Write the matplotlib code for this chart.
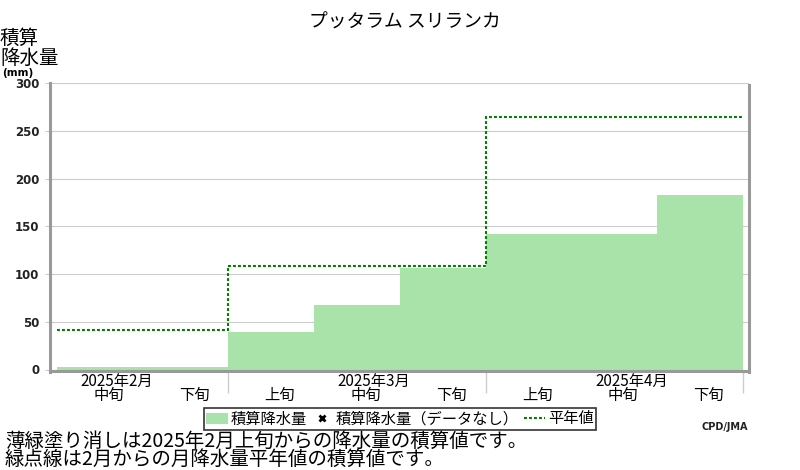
import matplotlib
matplotlib.use("Agg")
import matplotlib.pyplot as plt
import numpy as np
from matplotlib.patches import Patch
from matplotlib.lines import Line2D

plt.rcParams['font.family'] = ['Noto Sans CJK JP', 'DejaVu Sans']

# 旬ごとの積算降水量 (2025年2月中旬 ～ 4月下旬)
dekads = ['中旬', '下旬', '上旬', '中旬', '下旬', '上旬', '中旬', '下旬']
months = ['2025年2月', '2025年3月', '2025年4月']
month_mid_index = [0, 3, 6]          # 各月の「中旬」の位置
month_edges = [2, 5, 8]              # 月の区切り
precip = [2.4, 2.4, 39.7, 68.0, 106.6, 142.0, 142.0, 183.0]
normal = [41.8, 41.8, 108.0, 108.0, 108.0, 264.7, 264.7, 264.7]
nodata_x = []
nodata_y = []

title = 'プッタラム スリランカ'
note1 = '薄緑塗り消しは2025年2月上旬からの降水量の積算値です。'
note2 = '緑点線は2月からの月降水量平年値の積算値です。'

fill_color = '#aae3aa'
line_color = '#008000'
frame_color = '#999999'
grid_color = '#cccccc'

fig = plt.figure(figsize=(8, 4.7), dpi=100)
ax = fig.add_axes([50 / 800, 1 - 369.5 / 470, 699 / 800, 286.5 / 470])

x = np.arange(len(precip))
edges = np.arange(len(precip) + 1)

ax.bar(x, precip, width=1.0, align='edge', color=fill_color, linewidth=0,
       zorder=2, label='積算降水量')
ax.plot(nodata_x, nodata_y, 'x', color='black', markersize=5, mew=2,
        label='積算降水量（データなし）')
ax.stairs(normal, edges, baseline=None, color=line_color, linewidth=1.5,
          linestyle=(0, (1.4, 1.0)), zorder=3, label='平年値')

ax.set_xlim(-0.08, 8.07)
ax.set_ylim(0, 300)
ax.set_yticks(np.arange(0, 301, 50))
ax.grid(axis='y', color=grid_color, linewidth=0.8, zorder=0)
ax.set_axisbelow(True)
ax.tick_params(axis='y', length=3.6, width=0.8, color=grid_color, pad=4)
for lab in ax.get_yticklabels():
    lab.set_fontfamily('DejaVu Sans')
    lab.set_fontweight('bold')
    lab.set_fontsize(8.5)
    lab.set_color('#222222')

# x軸: 月の区切り線を副目盛りで
ax.set_xticks([])
ax.set_xticks(month_edges, minor=True)
ax.tick_params(axis='x', which='minor', length=16, width=1.0, color=grid_color)
ax.tick_params(axis='x', which='major', length=0)

trans = ax.get_xaxis_transform()
for i, d in enumerate(dekads):
    ax.text(i + 0.6, -0.092, d, transform=trans, ha='center', va='center',
            fontsize=11)
for m, i in zip(months, month_mid_index):
    ax.text(i + 0.7, -0.043, m, transform=trans, ha='center', va='center',
            fontsize=11)

for side in ['left', 'bottom', 'right']:
    ax.spines[side].set_color(frame_color)
    ax.spines[side].set_linewidth(2.2)
ax.spines['top'].set_visible(False)
ax.spines['bottom'].set_position(('outward', 1.2))
ax.spines['left'].set_bounds(-2.6, 300)
ax.spines['right'].set_bounds(-2.6, 298)

fig.text(0.506, 1 - 22 / 470, title, ha='center', va='center', fontsize=13.5)
fig.text(0.0, 1 - 38.5 / 470, '積算', ha='left', va='center', fontsize=14)
fig.text(0.0, 1 - 58.5 / 470, '降水量', ha='left', va='center', fontsize=14)
fig.text(2 / 800, 1 - 73 / 470, '(mm)', ha='left', va='center', fontsize=7.5,
         fontweight='bold', family='DejaVu Sans')

handles = [Patch(facecolor=fill_color, edgecolor='none'),
           Line2D([], [], marker='x', color='black', linestyle='None',
                  markersize=5, mew=2),
           Line2D([], [], color=line_color, linewidth=1.5,
                  linestyle=(0, (1.4, 1.0)))]
labels = ['積算降水量', '積算降水量（データなし）', '平年値']
leg = fig.legend(handles, labels, loc='center', bbox_to_anchor=(0.5, 1 - 419 / 470),
                 ncol=3, fontsize=11, frameon=True, fancybox=False,
                 handlelength=1.4, handletextpad=0.2, columnspacing=0.3,
                 borderpad=0.15, borderaxespad=0)
leg.get_frame().set_edgecolor('black')
leg.get_frame().set_linewidth(1.2)

fig.text(748 / 800, 1 - 427 / 470, 'CPD/JMA', ha='right', va='center',
         fontsize=7, fontweight='bold', family='DejaVu Sans', color='#222222')

fig.text(5 / 800, 1 - 441 / 470, note1, ha='left', va='center', fontsize=14)
fig.text(5 / 800, 1 - 459 / 470, note2, ha='left', va='center', fontsize=14)

fig.savefig('out.png', dpi=100)
